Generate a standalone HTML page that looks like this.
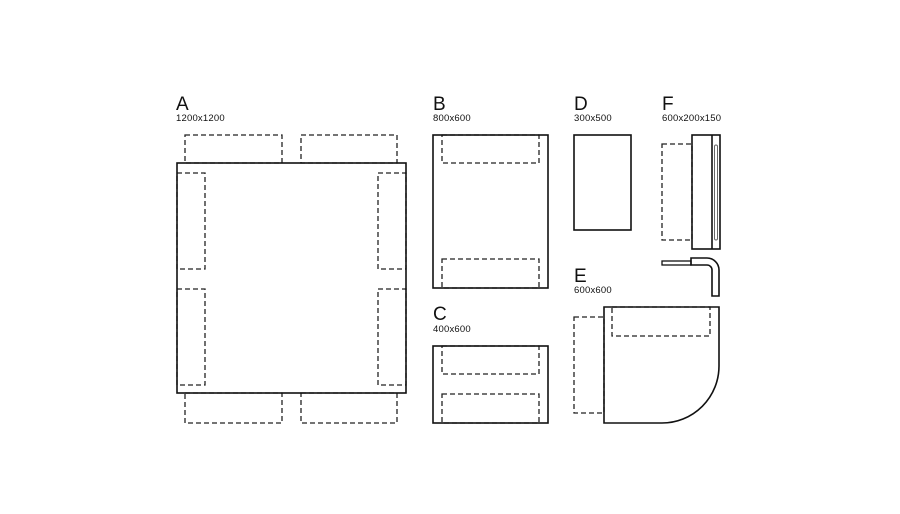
<!DOCTYPE html>
<html><head><meta charset="utf-8"><style>
html,body{margin:0;padding:0;background:#fff;}
svg{display:block;}
text{font-family:"Liberation Sans",sans-serif;fill:#111;}
.b{font-size:19px;}
.s{font-size:9.5px;letter-spacing:0.2px;}
.r{fill:none;stroke:#111;stroke-width:1.6;}
.d{fill:none;stroke:#222;stroke-width:1.3;stroke-dasharray:5 3;}
</style></head><body>
<svg width="900" height="514" viewBox="0 0 900 514">
<rect width="900" height="514" fill="#fff"/>
<!-- A -->
<text class="b" x="176" y="110">A</text>
<text class="s" x="176" y="121">1200x1200</text>
<rect class="d" x="185" y="135" width="97" height="28"/>
<rect class="d" x="301" y="135" width="96" height="28"/>
<rect class="d" x="185" y="393" width="97" height="30"/>
<rect class="d" x="301" y="393" width="96" height="30"/>
<rect class="d" x="177" y="173" width="28" height="96"/>
<rect class="d" x="177" y="289" width="28" height="96"/>
<rect class="d" x="378" y="173" width="28" height="96"/>
<rect class="d" x="378" y="289" width="28" height="96"/>
<rect class="r" x="177" y="163" width="229" height="230"/>
<!-- B -->
<text class="b" x="433" y="110">B</text>
<text class="s" x="433" y="121">800x600</text>
<rect class="d" x="442" y="135" width="97" height="28"/>
<rect class="d" x="442" y="259" width="97" height="29"/>
<rect class="r" x="433" y="135" width="115" height="153"/>
<!-- C -->
<text class="b" x="433" y="320">C</text>
<text class="s" x="433" y="332">400x600</text>
<rect class="d" x="442" y="346" width="97" height="28"/>
<rect class="d" x="442" y="394" width="97" height="29"/>
<rect class="r" x="433" y="346" width="115" height="77"/>
<!-- D -->
<text class="b" x="574" y="110">D</text>
<text class="s" x="574" y="121">300x500</text>
<rect class="r" x="574" y="135" width="57" height="95"/>
<!-- F -->
<text class="b" x="662" y="110">F</text>
<text class="s" x="662" y="121">600x200x150</text>
<rect class="d" x="662" y="144" width="30" height="96"/>
<rect class="r" x="692" y="135" width="28" height="114"/>
<line class="r" x1="712" y1="135" x2="712" y2="249"/>
<rect x="714.5" y="145" width="3" height="95" rx="1.5" fill="none" stroke="#666" stroke-width="1"/>
<rect x="662" y="261" width="29" height="4" fill="none" stroke="#111" stroke-width="1.3"/>
<path class="r" d="M691 258 H707 A12 12 0 0 1 719 270 V296 H712 V270 A5 5 0 0 0 707 265 H691 Z"/>
<!-- E -->
<text class="b" x="574" y="282">E</text>
<text class="s" x="574" y="293">600x600</text>
<rect class="d" x="574" y="317" width="30" height="96"/>
<rect class="d" x="612" y="307" width="98" height="29"/>
<path class="r" d="M604 307 H719 V366 A57 57 0 0 1 662 423 H604 Z"/>
</svg>
</body></html>
